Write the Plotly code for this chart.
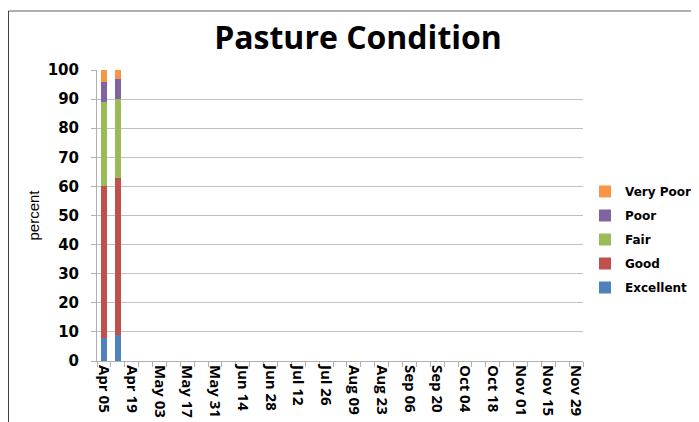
import plotly.graph_objects as go
import datetime as dt

# ---- data ----
start = dt.date(2015, 4, 5)
weeks = [(start + dt.timedelta(days=7 * i)).strftime("%b %d") for i in range(35)]
excellent = [8, 9]
good = [52, 54]
fair = [29, 27]
poor = [7, 7]
very_poor = [4, 3]
y_ticks = list(range(0, 101, 10))

series = [
    ("Excellent", excellent, "#4F81BD"),
    ("Good", good, "#C0504D"),
    ("Fair", fair, "#9BBB59"),
    ("Poor", poor, "#8064A2"),
    ("Very Poor", very_poor, "#F79646"),
]

fig = go.Figure()
for i, (name, vals, col) in enumerate(series):
    fig.add_trace(go.Bar(
        x=weeks[:len(vals)], y=vals, name=name, marker_color=col,
        marker_line_width=0, legendgroup=name, legendrank=len(series) - i,
    ))

# page body has an 8px margin; figure sized to fit the window
OFF = 8
W, H = 699 - OFF, 422 - OFF
L, T = 97 - OFF, 70 - OFF
R = W - (583 - OFF)
B = H - (361 - OFF)
pw, ph = W - L - R, H - T - B

def px_x(p):  # screen px -> paper
    return (p - OFF - L) / pw

def px_y(p):
    return (H - B - (p - OFF)) / ph

ticktext = [w if i % 2 == 0 else "" for i, w in enumerate(weeks)]

fig.update_layout(
    width=W, height=H,
    margin=dict(l=L, r=R, t=T, b=B, autoexpand=False),
    paper_bgcolor="white", plot_bgcolor="white",
    barmode="stack", bargap=0.57,
    title=dict(text="<b>Pasture Condition</b>", x=px_x(358), xref="paper", xanchor="center",
               y=1 - (38 - OFF) / H, yref="container", yanchor="middle",
               font=dict(family="Open Sans", size=32, color="black")),
    xaxis=dict(
        type="category", categoryorder="array", categoryarray=weeks,
        range=[-0.5, len(weeks) - 0.5],
        tickmode="array", tickvals=weeks, ticktext=ticktext,
        tickson="boundaries", ticks="outside", ticklen=5, tickcolor="#b0b0b0",
        tickangle=90, showgrid=False,
        showline=True, linecolor="#b0b0b0", linewidth=1,
        tickfont=dict(family="Open Sans", size=15, color="black", weight="bold"),
    ),
    yaxis=dict(
        range=[0, 100], tickmode="array", tickvals=y_ticks,
        ticks="outside", ticklen=5, tickcolor="#b0b0b0",
        showgrid=True, gridcolor="#c0c0c0", gridwidth=1,
        showline=True, linecolor="#b0b0b0", linewidth=1,
        zeroline=False, ticklabelstandoff=9,
        tickfont=dict(family="DejaVu Sans", size=15, color="black", weight="bold"),
        title=dict(text="percent", standoff=4,
                   font=dict(family="Liberation Sans", size=15, color="black")),
    ),
    legend=dict(
        x=px_x(577 + OFF), y=px_y(177), xanchor="left", yanchor="top",
        traceorder="grouped", tracegroupgap=5,
        font=dict(family="DejaVu Sans", size=12, color="black", weight="bold"),
        itemwidth=30, bgcolor="rgba(0,0,0,0)",
    ),
    showlegend=True,
)

# chart frame lines (top and left)
fig.add_shape(type="line", xref="paper", yref="paper",
              x0=px_x(8.5), x1=px_x(699 + OFF), y0=px_y(11), y1=px_y(11),
              line=dict(color="#b0b0b0", width=2))
fig.add_shape(type="line", xref="paper", yref="paper",
              x0=px_x(8.5), x1=px_x(8.5), y0=px_y(11), y1=px_y(430),
              line=dict(color="#404040", width=1))

fig.write_html("out.html")
